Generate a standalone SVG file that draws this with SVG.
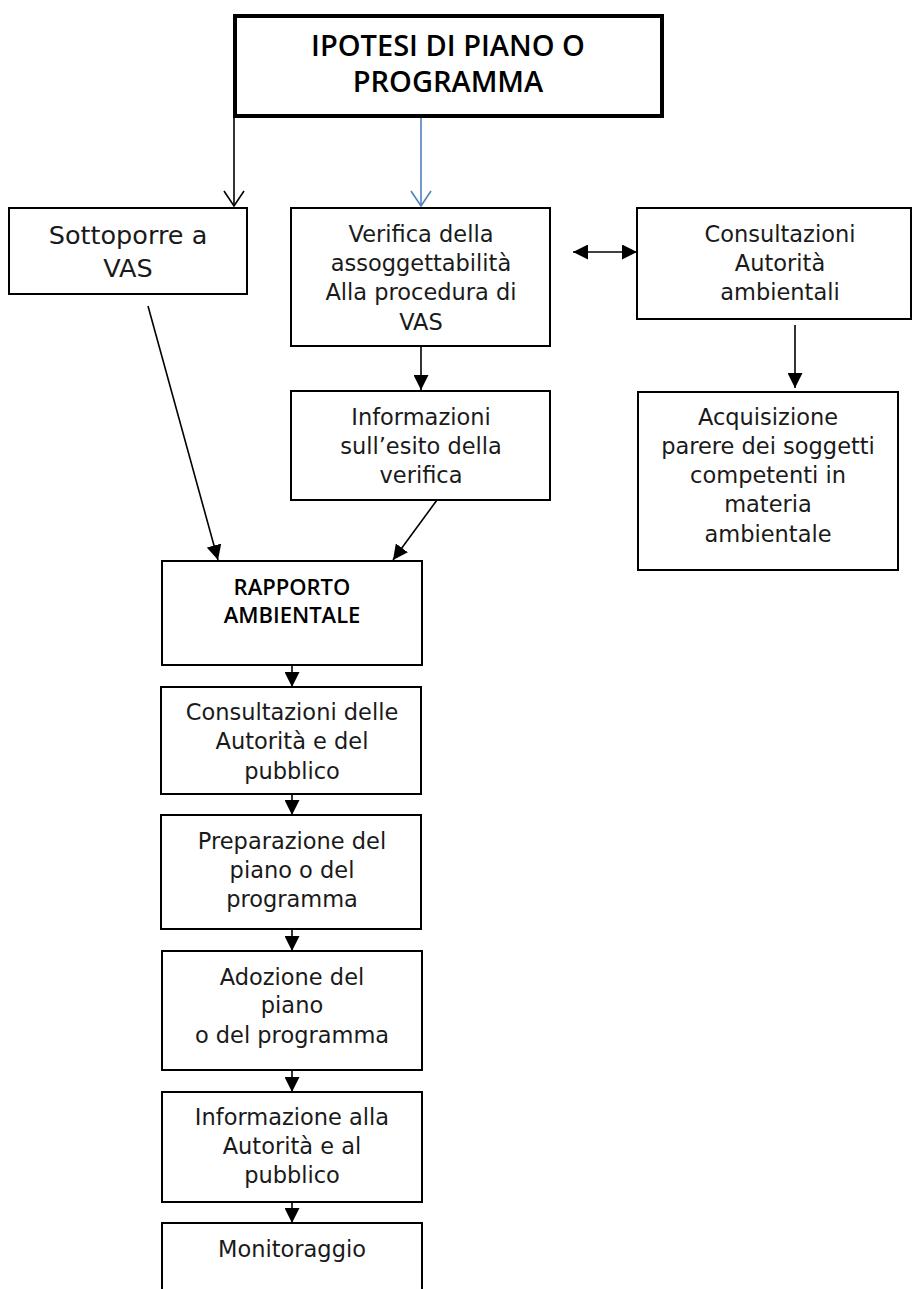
<svg xmlns="http://www.w3.org/2000/svg" width="912" height="1289" viewBox="0 0 912 1289">
<style>
.box{fill:#fff;stroke:#000;stroke-width:2}
.top{fill:#fff;stroke:#000;stroke-width:4}
.t{font-family:"DejaVu Sans","Liberation Sans",sans-serif;font-size:22.5px;fill:#1a1a1a;text-anchor:middle}
.big{font-size:25.5px}
.tb{font-family:"Open Sans","Liberation Sans",sans-serif;font-weight:600;fill:#000;text-anchor:middle}
.h1{font-size:29px}
.h2{font-size:22px}
.c{stroke:#000;stroke-width:1.6;fill:none}
</style>
<defs>
<marker id="fill" viewBox="0 0 15 15" refX="15" refY="7.5" markerWidth="15" markerHeight="15" markerUnits="userSpaceOnUse" orient="auto-start-reverse">
<path d="M0,0 L15,7.5 L0,15 Z" fill="#000"/>
</marker>
<marker id="openK" viewBox="0 0 17 22" refX="16" refY="11" markerWidth="17" markerHeight="22" markerUnits="userSpaceOnUse" orient="auto">
<path d="M1,1 L16,11 L1,21" fill="none" stroke="#000" stroke-width="1.6"/>
</marker>
<marker id="openB" viewBox="0 0 17 22" refX="16" refY="11" markerWidth="17" markerHeight="22" markerUnits="userSpaceOnUse" orient="auto">
<path d="M1,1 L16,11 L1,21" fill="none" stroke="#4f81bd" stroke-width="1.6"/>
</marker>
</defs>

<g id="connectors">
<line class="c" x1="234" y1="116" x2="234" y2="206" marker-end="url(#openK)"/>
<line x1="421" y1="116" x2="421" y2="206" stroke="#4f81bd" stroke-width="1.6" marker-end="url(#openB)"/>
<line class="c" x1="573" y1="252" x2="637" y2="252" marker-start="url(#fill)" marker-end="url(#fill)"/>
<line class="c" x1="421" y1="346" x2="421" y2="390" marker-end="url(#fill)"/>
<line class="c" x1="795" y1="325" x2="795" y2="388" marker-end="url(#fill)"/>
<line class="c" x1="148" y1="306" x2="218" y2="560" marker-end="url(#fill)"/>
<line class="c" x1="437" y1="500" x2="393" y2="560" marker-end="url(#fill)"/>
<line class="c" x1="292" y1="665" x2="292" y2="687" marker-end="url(#fill)"/>
<line class="c" x1="292" y1="794" x2="292" y2="815" marker-end="url(#fill)"/>
<line class="c" x1="292" y1="929" x2="292" y2="951" marker-end="url(#fill)"/>
<line class="c" x1="292" y1="1070" x2="292" y2="1092" marker-end="url(#fill)"/>
<line class="c" x1="292" y1="1202" x2="292" y2="1223" marker-end="url(#fill)"/>
</g>

<g id="ipotesi">
<rect class="top" x="235" y="16" width="427" height="100"/>
<text class="tb h1" x="448" y="56">IPOTESI DI PIANO O</text>
<text class="tb h1" x="448" y="92">PROGRAMMA</text>
</g>

<g id="sottoporre">
<rect class="box" x="9" y="208" width="238" height="86"/>
<text class="t big" x="128" y="244">Sottoporre a</text>
<text class="t big" x="128" y="277">VAS</text>
</g>

<g id="verifica">
<rect class="box" x="291" y="208" width="259" height="138"/>
<text class="t" x="421" y="242">Verifica della</text>
<text class="t" x="421" y="271">assoggettabilità</text>
<text class="t" x="421" y="300">Alla procedura di</text>
<text class="t" x="421" y="330">VAS</text>
</g>

<g id="consultazioni-autorita">
<rect class="box" x="637" y="208" width="274" height="111"/>
<text class="t" x="780" y="242">Consultazioni</text>
<text class="t" x="780" y="271">Autorità</text>
<text class="t" x="780" y="300">ambientali</text>
</g>

<g id="informazioni">
<rect class="box" x="291" y="391" width="259" height="109"/>
<text class="t" x="421" y="425">Informazioni</text>
<text class="t" x="421" y="454">sull’esito della</text>
<text class="t" x="421" y="483">verifica</text>
</g>

<g id="acquisizione">
<rect class="box" x="638" y="392" width="260" height="178"/>
<text class="t" x="768" y="425">Acquisizione</text>
<text class="t" x="768" y="454">parere dei soggetti</text>
<text class="t" x="768" y="483">competenti in</text>
<text class="t" x="768" y="512">materia</text>
<text class="t" x="768" y="542">ambientale</text>
</g>

<g id="rapporto">
<rect class="box" x="162" y="561" width="260" height="104"/>
<text class="tb h2" x="292" y="595">RAPPORTO</text>
<text class="tb h2" x="292" y="623">AMBIENTALE</text>
</g>

<g id="consultazioni-pubblico">
<rect class="box" x="161" y="687" width="260" height="107"/>
<text class="t" x="292" y="720">Consultazioni delle</text>
<text class="t" x="292" y="749">Autorità e del</text>
<text class="t" x="292" y="779">pubblico</text>
</g>

<g id="preparazione">
<rect class="box" x="161" y="815" width="260" height="114"/>
<text class="t" x="292" y="849">Preparazione del</text>
<text class="t" x="292" y="878">piano o del</text>
<text class="t" x="292" y="907">programma</text>
</g>

<g id="adozione">
<rect class="box" x="162" y="951" width="260" height="119"/>
<text class="t" x="292" y="985">Adozione del</text>
<text class="t" x="292" y="1013">piano</text>
<text class="t" x="292" y="1043">o del programma</text>
</g>

<g id="informazione">
<rect class="box" x="162" y="1092" width="260" height="110"/>
<text class="t" x="292" y="1125">Informazione alla</text>
<text class="t" x="292" y="1154">Autorità e al</text>
<text class="t" x="292" y="1183">pubblico</text>
</g>

<g id="monitoraggio">
<rect class="box" x="162" y="1223" width="260" height="90"/>
<text class="t" x="292" y="1257">Monitoraggio</text>
</g>
</svg>
